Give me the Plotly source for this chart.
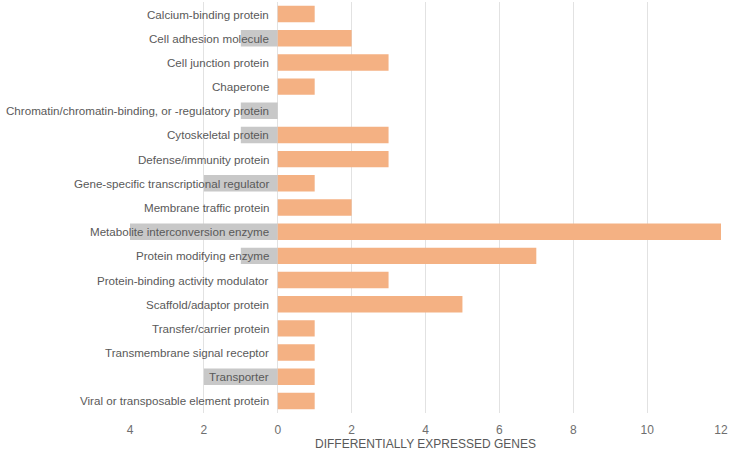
import plotly.graph_objects as go

categories = [
    "Calcium-binding protein",
    "Cell adhesion molecule",
    "Cell junction protein",
    "Chaperone",
    "Chromatin/chromatin-binding, or -regulatory protein",
    "Cytoskeletal protein",
    "Defense/immunity protein",
    "Gene-specific transcriptional regulator",
    "Membrane traffic protein",
    "Metabolite interconversion enzyme",
    "Protein modifying enzyme",
    "Protein-binding activity modulator",
    "Scaffold/adaptor protein",
    "Transfer/carrier protein",
    "Transmembrane signal receptor",
    "Transporter",
    "Viral or transposable element protein",
]
up_values = [1, 2, 3, 1, 0, 3, 3, 1, 2, 12, 7, 3, 5, 1, 1, 1, 1]
down_values = [0, 1, 0, 0, 1, 1, 0, 2, 0, 4, 1, 0, 0, 0, 0, 2, 0]
tick_values = [-4, -2, 0, 2, 4, 6, 8, 10, 12]
tick_labels = ["4", "2", "0", "2", "4", "6", "8", "10", "12"]

fig = go.Figure()
fig.add_trace(go.Bar(
    y=categories, x=[-v for v in down_values], orientation="h",
    marker=dict(color="#C8C8C8", line=dict(width=0)), width=0.68, name="Down",
))
fig.add_trace(go.Bar(
    y=categories, x=up_values, orientation="h",
    marker=dict(color="#F4B183", line=dict(width=0)), width=0.68, name="Up",
))

for c in categories:
    fig.add_annotation(x=0, y=c, xref="x", yref="y", text=c, showarrow=False,
                       xanchor="right", xshift=-7,
                       font=dict(family="Liberation Sans, Arial", size=11.6, color="#595959"))

fig.update_layout(
    width=730, height=451,
    margin=dict(l=130, r=7, t=2, b=38),
    barmode="relative",
    showlegend=False,
    plot_bgcolor="white", paper_bgcolor="white",
    font=dict(family="Liberation Sans, Arial", size=12, color="#595959"),
    xaxis=dict(
        range=[-4, 12], tickvals=tick_values, ticktext=tick_labels,
        showgrid=True, gridcolor="#E2E2E2", gridwidth=1,
        zeroline=True, zerolinecolor="#E2E2E2", zerolinewidth=1,
        showline=False, ticks="", ticklabelstandoff=8,
        tickfont=dict(size=12, color="#6E6E6E"),
        title=dict(text="DIFFERENTIALLY EXPRESSED GENES", standoff=4,
                   font=dict(size=12, color="#595959")),
    ),
    yaxis=dict(
        categoryorder="array", categoryarray=categories, autorange="reversed",
        showticklabels=False, showgrid=False, zeroline=False, showline=False,
    ),
)

fig.write_html("out.html")
